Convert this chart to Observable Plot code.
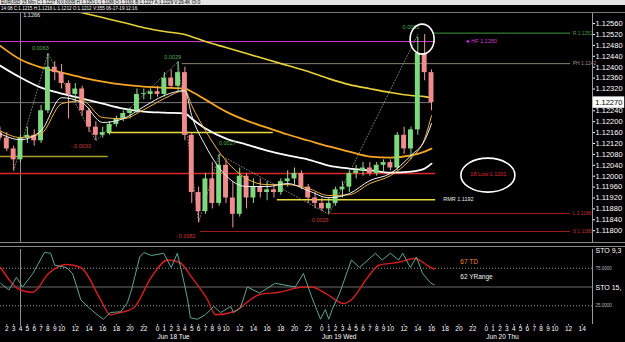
<!DOCTYPE html>
<html><head><meta charset="utf-8">
<script src="https://cdn.jsdelivr.net/npm/d3@7"></script>
<script src="https://cdn.jsdelivr.net/npm/@observablehq/plot@0.6"></script>
<style>
html,body{margin:0;padding:0;background:#000;width:625px;height:342px;overflow:hidden;font-family:"Liberation Sans",Arial,sans-serif;}
#wrap{position:relative;width:625px;height:342px;background:#000;}
#h1{position:absolute;left:0;top:0;width:625px;height:5px;background:#e4e4e4;color:#000;font-size:4.6px;line-height:5px;white-space:nowrap;z-index:3;padding-left:1px;}
#h2{position:absolute;left:0;top:5px;width:625px;height:7px;background:#000;color:#fff;font-size:4.6px;line-height:7px;white-space:nowrap;z-index:3;border-bottom:1px solid #777;padding-left:1px;}
#main{position:absolute;left:0;top:0;z-index:1;}
#osc{position:absolute;left:0;top:245px;z-index:1;}
#sep{position:absolute;left:0;top:242px;width:625px;height:3px;border-top:1px solid #8a8a8a;border-bottom:1px solid #8a8a8a;z-index:2;}
</style></head>
<body><div id="wrap">
<div id="h1">EURUSD 15 Min C:1.1227 N:0.0035 H:1.1251 L:1.1186 O:1.1191 B:1.1227 A:1.1229 V:29.4K OI:0</div>
<div id="h2">14:08 C:1.1215 H:1.1216 L:1.1212 O:1.1212 V:355 06-17-19 12:16</div>
<div id="main"></div><div id="sep"></div><div id="osc"></div>
</div>
<script>
// ---------- data (hours counted from Jun 17 00:00) ----------
const candleHours = [1,2,3,4,5,6,7,8,9,10,11,12,13,14,15,16,17,18,19,20,21,22,23,24,25,26,27,28,29,30,31,32,33,34,35,36,37,38,39,40,41,42,43,44,45,46,47,48,49,50,51,52,53,54,55,56,57,58,59,60,61,62,63,64];
const opens = [1.12160,1.12140,1.12100,1.12060,1.12140,1.12150,1.12130,1.12240,1.12400,1.12380,1.12340,1.12300,1.12320,1.12240,1.12180,1.12150,1.12160,1.12190,1.12210,1.12230,1.12240,1.12300,1.12300,1.12310,1.12300,1.12360,1.12330,1.12380,1.12150,1.11940,1.11870,1.11990,1.11900,1.12040,1.11920,1.11860,1.12000,1.11920,1.11960,1.11940,1.11950,1.11940,1.11980,1.11990,1.12010,1.11960,1.11920,1.11900,1.11880,1.11900,1.11950,1.11960,1.12010,1.12020,1.12030,1.12010,1.12040,1.12050,1.12030,1.12150,1.12100,1.12170,1.12450,1.12380];
const highs = [1.12180,1.12160,1.12110,1.12150,1.12180,1.12170,1.12260,1.12450,1.12420,1.12410,1.12350,1.12340,1.12330,1.12250,1.12200,1.12180,1.12200,1.12220,1.12240,1.12250,1.12320,1.12320,1.12320,1.12330,1.12380,1.12390,1.12420,1.12400,1.12160,1.11960,1.12010,1.12050,1.12080,1.12060,1.11980,1.12030,1.12010,1.11990,1.11990,1.11980,1.11970,1.11990,1.12020,1.12030,1.12020,1.11970,1.11940,1.11920,1.11920,1.11960,1.11980,1.12020,1.12040,1.12050,1.12050,1.12050,1.12060,1.12060,1.12160,1.12180,1.12180,1.12510,1.12520,1.12390];
const lows = [1.12130,1.12090,1.12020,1.12050,1.12120,1.12110,1.12120,1.12230,1.12350,1.12320,1.12210,1.12270,1.12220,1.12160,1.12130,1.12140,1.12150,1.12180,1.12200,1.12210,1.12230,1.12280,1.12280,1.12290,1.12290,1.12320,1.12310,1.12130,1.11900,1.11830,1.11860,1.11880,1.11890,1.11900,1.11810,1.11850,1.11880,1.11900,1.11920,1.11910,1.11920,1.11930,1.11960,1.11970,1.11950,1.11900,1.11880,1.11870,1.11860,1.11890,1.11920,1.11940,1.11990,1.12000,1.12000,1.12000,1.12010,1.12020,1.12020,1.12080,1.12060,1.12150,1.12350,1.12240];
const closes = [1.12140,1.12100,1.12060,1.12140,1.12150,1.12130,1.12240,1.12400,1.12380,1.12340,1.12300,1.12320,1.12240,1.12180,1.12150,1.12160,1.12190,1.12210,1.12230,1.12240,1.12300,1.12300,1.12310,1.12300,1.12360,1.12330,1.12380,1.12150,1.11940,1.11870,1.11990,1.11900,1.12040,1.11920,1.11860,1.12000,1.11920,1.11960,1.11940,1.11950,1.11940,1.11980,1.11990,1.12010,1.11960,1.11920,1.11900,1.11880,1.11900,1.11950,1.11960,1.12010,1.12020,1.12030,1.12010,1.12040,1.12050,1.12030,1.12150,1.12100,1.12170,1.12450,1.12380,1.12270];

const maHours = [1,4,7,10,13,16,19,22,25,28,29,31,34,37,40,43,46,49,52,55,58,61,63,64];
const maYellow = [1.12673,1.12655,1.12637,1.12619,1.12600,1.12582,1.12564,1.12545,1.12531,1.12520,1.12512,1.12494,1.12472,1.12450,1.12428,1.12406,1.12384,1.12358,1.12336,1.12321,1.12307,1.12296,1.12292,1.12288];
const maOrange = [1.12479,1.12428,1.12399,1.12380,1.12362,1.12347,1.12336,1.12329,1.12325,1.12321,1.12310,1.12281,1.12237,1.12204,1.12178,1.12153,1.12131,1.12109,1.12090,1.12072,1.12068,1.12076,1.12090,1.12101];
const maWhite = [1.12406,1.12362,1.12325,1.12303,1.12285,1.12266,1.12248,1.12237,1.12233,1.12230,1.12211,1.12175,1.12138,1.12116,1.12094,1.12076,1.12061,1.12039,1.12028,1.12021,1.12013,1.12017,1.12028,1.12046];
const maFastWhite = [1.12156,1.12134,1.12167,1.12288,1.12270,1.12197,1.12211,1.12255,1.12296,1.12314,1.12222,1.12112,1.12002,1.11962,1.11962,1.11973,1.11947,1.11921,1.11936,1.11984,1.12010,1.12076,1.12131,1.12193];
const maFastOrange = [1.12167,1.12142,1.12156,1.12266,1.12277,1.12215,1.12211,1.12244,1.12285,1.12314,1.12259,1.12167,1.12057,1.11991,1.11969,1.11969,1.11955,1.11929,1.11932,1.11973,1.12002,1.12065,1.12138,1.12222];

const zigHours = [3,8,15,27,30,33,49,62];
const zigPrices = [1.12020,1.12450,1.12130,1.12420,1.11830,1.12080,1.11860,1.12520];
const swingLabels = ["0.0063","- 0.0033","0.0029","- 0.0082","0.0027","- 0.0026","0.0065"];
const swingHours = [6.9,12.8,26.2,28.1,34.2,47.5,61.0];
const swingPrices = [1.12468,1.12109,1.12436,1.11778,1.12120,1.11837,1.12545];
const swingUp = [true,false,true,false,true,false,true];

const levelPrices = [1.12494,1.12525,1.12413,1.12270,1.12160,1.12072,1.12010,1.11914,1.11863,1.11797];
const levelStart = [1.08,64.3,27.6,1.08,16.7,1.08,1.08,41.5,49.3,30.3];
const levelEnd = [64.6,84.3,84.3,64.1,40.9,16.8,64.6,64.6,84.3,84.3];
const levelKinds = ["hf","r","ph","last","pivot","old","low18","rmr","l","s"];

const rightLabelTexts = ["R 1.1252","PH 1.1242","L 1.1186","S 1.1180"];
const rightLabelPrices = [1.12525,1.12413,1.11863,1.11797];
const noteTexts = ["\u25C4 HF 1.1250","RMR 1.1192","18 Low 1.1201","1.1266"];
const noteHours = [68.8,65.7,72.3,4.4];
const notePrices = [1.12494,1.11914,1.12006,1.12589];

const priceTicks = [1.118,1.1184,1.1188,1.1192,1.1196,1.12,1.1204,1.1208,1.1212,1.1216,1.122,1.1224,1.1232,1.1236,1.124,1.1244,1.1248,1.1252,1.1256];
const lastPrice = 1.1227;
const crossHour = 4;

const stoFastHours = [1.1,2.3,3.4,4.3,5.8,7.5,8.4,9.0,10.7,11.6,12.8,13.8,15.2,16.1,17.1,18.6,19.6,20.2,21.4,22.0,23.1,24.9,26.0,26.9,27.8,28.4,28.8,29.8,31.0,32.2,33.2,34.7,35.1,36.1,37.1,38.9,41.2,44.1,45.3,46.5,47.4,47.8,48.5,49.0,49.5,50.6,52.3,53.5,55.8,56.8,58.0,59.2,59.8,60.9,61.8,62.7,63.9,64.4];
const stoFast = [55,46,63,50,68,96,95,79,76,68,33,24,13,7,16,17,29,46,90,96,92,95,76,95,59,33,9,7,13,24,16,24,16,22,50,42,55,50,68,37,16,7,20,7,20,42,86,76,95,86,95,86,95,76,90,68,55,53];
const stoSlowHours = [1.1,4.0,5.8,8.1,10.7,12.8,15.7,17.1,18.6,20.5,23.1,25.5,27.2,29.0,31.3,32.5,35.1,38.9,41.8,45.3,46.5,48.8,51.2,52.3,54.7,56.3,59.2,61.5,63.9,64.4];
const stoSlow = [76,46,43,68,80,76,33,13,16,22,63,86,83,63,33,13,17,40,43,50,50,40,28,33,63,79,83,88,76,74];
const stoLevels = [75,25];
const stoNotes = ["67 TD","62 YRange"];
const stoNoteValues = [84,64];

const hourTicks = [2,3,4,5,6,7,8,9,10,12,14,16,18,20,22,24,25,26,27,28,29,30,31,32,33,34,36,38,40,42,44,46,48,49,50,51,52,53,54,55,56,57,58,60,62,64,66,68,70,72,73,74,75,76,77,78,79,80,81,82,84,86];
const dayHours = [24,48,72];
const dayLabels = ["Jun 18 Tue","Jun 19 Wed","Jun 20 Thu"];

// ---------- build ----------
const X_DOMAIN = [1.08, 87.5];
const FONT = "Liberation Sans, Arial, sans-serif";
const candles = candleHours.map((h,i)=>({h, o:opens[i], hi:highs[i], lo:lows[i], c:closes[i]}));
const mas = (vals)=> maHours.map((h,i)=>({h, v:vals[i]}));
const zig = zigHours.map((h,i)=>({h, p:zigPrices[i]}));
const swings = swingHours.map((h,i)=>({h, p:swingPrices[i], t:swingLabels[i], up:swingUp[i]}));
const levelColor = {hf:"#d43bd4", r:"#3f9a3f", ph:"#8c8070", last:"#7a7a7a", pivot:"#e6dc3a", old:"#a89c2c", low18:"#e02828", rmr:"#e6dc3a", l:"#9c1c1c", s:"#9c1c1c"};
const levels = levelPrices.map((p,i)=>({p, a:levelStart[i], b:levelEnd[i], k:levelKinds[i]}));
const rightColors = ["#3f9a3f","#a09080","#c03030","#c03030"];
const rightLabels = rightLabelTexts.map((t,i)=>({t, p:rightLabelPrices[i], c:rightColors[i]}));
const noteColors = ["#d43bd4","#e8e8e8","#e02828","#e8e8e8"];
const notes = noteTexts.map((t,i)=>({t, h:noteHours[i], p:notePrices[i], c:noteColors[i]}));

const main = Plot.plot({
  width: 625, height: 245,
  marginLeft: 0, marginRight: 33, marginTop: 13, marginBottom: 2,
  style: {background:"transparent", color:"#fff", fontFamily: FONT, fontSize:"7.5px", overflow:"visible"},
  x: {domain: X_DOMAIN, axis: null},
  y: {domain: [1.11753, 1.12597], axis: null},
  marks: [
    Plot.ruleX([crossHour], {stroke:"#8a8a8a", strokeWidth:1}),
    Plot.ruleY(levels, {y:"p", x1:"a", x2:"b", stroke: d=>levelColor[d.k], strokeWidth: d=> d.k==="old"||d.k==="pivot"||d.k==="rmr"||d.k==="low18" ? 1.5 : 1}),
    Plot.line(zig, {x:"h", y:"p", stroke:"#9a9a9a", strokeWidth:0.8, strokeDasharray:"1,2"}),
    Plot.line(mas(maYellow), {x:"h", y:"v", stroke:"#e8d23a", strokeWidth:1.6, curve:"monotone-x", clip:true}),
    Plot.line(mas(maOrange), {x:"h", y:"v", stroke:"#f5a623", strokeWidth:1.8, curve:"monotone-x", clip:true}),
    Plot.line(mas(maWhite), {x:"h", y:"v", stroke:"#ffffff", strokeWidth:1.8, curve:"monotone-x", clip:true}),
    Plot.ruleX(candles, {x:"h", y1:"lo", y2:"hi", stroke: d=> d.c>=d.o ? "#8fe08f" : "#f29a9a", strokeWidth:1}),
    Plot.rect(candles, {x1: d=>d.h-0.36, x2: d=>d.h+0.36, y1:"o", y2: d=> Math.abs(d.c-d.o)<0.00003 ? d.o+0.00003 : d.c, fill: d=> d.c>=d.o ? "#7ed87e" : "#f08c8c"}),
    Plot.line(mas(maFastOrange), {x:"h", y:"v", stroke:"#f0b040", strokeWidth:1, curve:"monotone-x"}),
    Plot.line(mas(maFastWhite), {x:"h", y:"v", stroke:"#f4f4f4", strokeWidth:1, curve:"monotone-x"}),
    Plot.text(swings, {x:"h", y:"p", text:"t", fill: d=> d.up ? "#55b055" : "#d03a3a", fontSize:5.5}),
    Plot.text(notes, {x:"h", y:"p", text:"t", fill: d=>d.c, fontSize:5.5, textAnchor:"start"}),
    Plot.text(rightLabels, {x: 84.6, y:"p", text:"t", fill: d=>d.c, fontSize:5, textAnchor:"start"}),
    Plot.ruleX([X_DOMAIN[1]], {stroke:"#9a9a9a"}),
    Plot.axisY({anchor:"right", ticks: priceTicks, tickFormat: d=>d.toFixed(5), tickSize:2, tickPadding:1, fontSize:7.5, label:null, stroke:"#fff", fill:"#fff"}),
    Plot.rect([lastPrice], {x1: X_DOMAIN[1]+0.1, x2: X_DOMAIN[1]+4.7, y1: d=>d-0.00021, y2: d=>d+0.00021, fill:"#ffffff"}),
    Plot.text([lastPrice], {x: X_DOMAIN[1]+0.4, y: d=>d, text: d=>d.toFixed(5), fill:"#000", fontSize:7.5, textAnchor:"start"})
  ]
});
document.getElementById("main").appendChild(main);

// center the "18 Low" note inside its ellipse
d3.select(main).selectAll("text").filter(function(){ return this.textContent === "18 Low 1.1201"; }).attr("text-anchor","middle");

// highlight ellipses, positioned through the chart's scales
const sx = main.scale("x"), sy = main.scale("y");
const svgSel = d3.select(main);
const ellipseHours = [62.7, 72.3];
const ellipsePrices = [1.12501, 1.12002];
const ellipseR = [[12,15],[27,17]];
ellipseHours.forEach((h,i)=>{
  svgSel.append("ellipse").attr("cx", sx.apply(h)).attr("cy", sy.apply(ellipsePrices[i]))
    .attr("rx", ellipseR[i][0]).attr("ry", ellipseR[i][1])
    .attr("fill","none").attr("stroke","#fff").attr("stroke-width",1.6);
});

const fast = stoFastHours.map((h,i)=>({h, v:stoFast[i]}));
const slow = stoSlowHours.map((h,i)=>({h, v:stoSlow[i]}));
const osc = Plot.plot({
  width: 625, height: 97,
  marginLeft: 0, marginRight: 33, marginTop: 4, marginBottom: 18,
  style: {background:"transparent", color:"#fff", fontFamily: FONT, fontSize:"6.5px", overflow:"visible"},
  x: {domain: X_DOMAIN, axis: null},
  y: {domain: [0, 100], axis: null},
  marks: [
    Plot.ruleX([crossHour], {stroke:"#8a8a8a"}),
    Plot.ruleY(stoLevels, {stroke:"#9a9a9a", strokeDasharray:"1,2"}),
    Plot.ruleY([50], {stroke:"#6a6a6a"}),
    Plot.line(slow, {x:"h", y:"v", stroke:"#d42020", strokeWidth:1.4, curve:"monotone-x"}),
    Plot.line(fast, {x:"h", y:"v", stroke:"#5fa596", strokeWidth:1, curve:"linear"}),
    Plot.text(stoNotes, {x: 68.2, y: (d,i)=>stoNoteValues[i], text: d=>d, fill: (d,i)=> i===0 ? "#f08a3a" : "#f0f0f0", fontSize:6.5, textAnchor:"start"}),
    Plot.text(stoLevels, {x: X_DOMAIN[1], y: d=>d, text: d=>d.toFixed(4), dx:3, fill:"#bbb", fontSize:4.5, textAnchor:"start"}),
    Plot.text(["STO 9,3"], {x: X_DOMAIN[1], y: 100, dx:3, dy:1, fill:"#fff", fontSize:7, textAnchor:"start"}),
    Plot.text(["STO 15,"], {x: X_DOMAIN[1], y: 50, dx:3, dy:1, fill:"#fff", fontSize:7, textAnchor:"start"}),
    Plot.ruleX([X_DOMAIN[1]], {stroke:"#9a9a9a"}),
    Plot.axisX({ticks: hourTicks, tickFormat: h => String(h % 24), tickSize:1.5, tickPadding:0, fontSize:6.5, label:null, stroke:"#bbb", fill:"#fff"}),
    Plot.text(dayHours, {x: d=>d, text: (d,i)=>dayLabels[i], frameAnchor:"bottom", dy:14, fill:"#fff", fontSize:6.5, textAnchor:"start"})
  ]
});
document.getElementById("osc").appendChild(osc);
</script>
</body></html>
